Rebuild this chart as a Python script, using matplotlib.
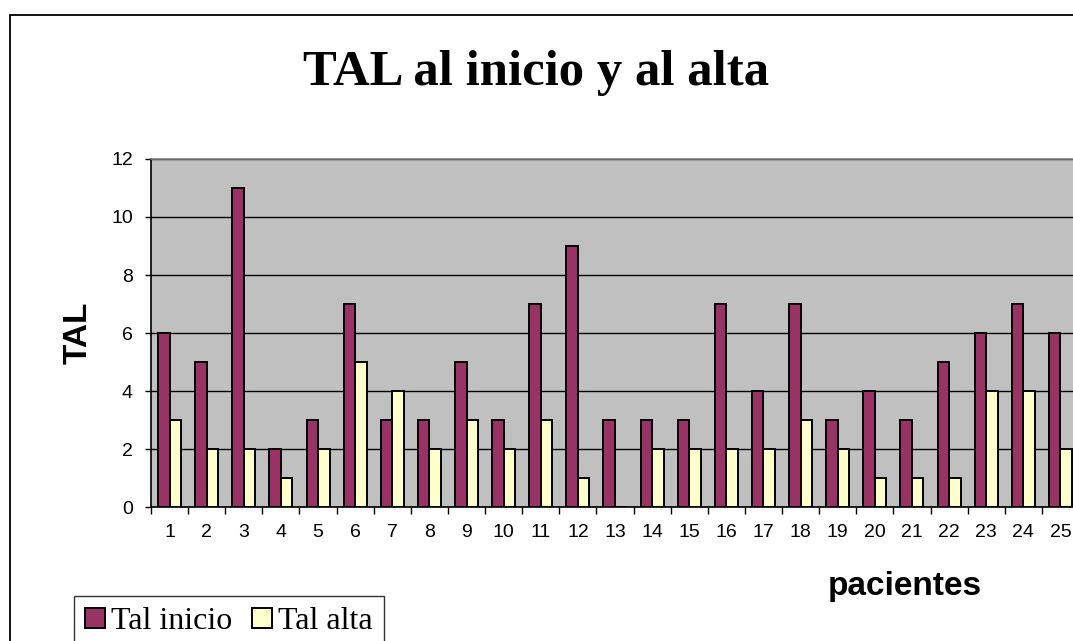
import numpy as np
import matplotlib.pyplot as plt
from matplotlib.patches import Rectangle

# datos
pacientes = [str(i) for i in range(1, 26)]
tal_inicio = [6, 5, 11, 2, 3, 7, 3, 3, 5, 3, 7, 9, 3, 3, 3, 7, 4, 7, 3, 4, 3, 5, 6, 7, 6]
tal_alta = [3, 2, 2, 1, 2, 5, 4, 2, 3, 2, 3, 1, 0, 2, 2, 2, 2, 3, 2, 1, 1, 1, 4, 4, 2]
y_ticks = [0, 2, 4, 6, 8, 10, 12]

plt.rcParams['font.family'] = 'Liberation Sans'
plt.rcParams['xtick.labelsize'] = 14
plt.rcParams['ytick.labelsize'] = 14

W, H = 1073, 641
fig = plt.figure(figsize=(W / 100, H / 100), dpi=100)
fig.patch.set_facecolor('white')

# marco del grafico (cortado a la derecha y abajo)
fig.patches.append(Rectangle((10 / W, -0.1), 1.2, 1 - 15 / H + 0.1,
                             transform=fig.transFigure, fill=False,
                             edgecolor='black', linewidth=1.3))

ax = fig.add_axes([151 / W, (H - 507) / H, (1079 - 151) / W, (507 - 159) / H])
ax.set_facecolor('#C0C0C0')

x = np.arange(len(pacientes))
w = 0.31
ax.bar(x - w / 2, tal_inicio, w, color='#993366', edgecolor='black',
       linewidth=1.4, label='Tal inicio', zorder=3)
ax.bar(x + w / 2, tal_alta, w, color='#FFFFCC', edgecolor='black',
       linewidth=1.4, label='Tal alta', zorder=3)

ax.set_xlim(-0.5, len(pacientes) - 0.5)
ax.set_ylim(0, 12)
ax.set_yticks(y_ticks)
ax.yaxis.grid(True, color='black', linewidth=1, zorder=1)
ax.set_axisbelow(True)

# etiquetas en el centro, marcas en los limites de categoria
ax.set_xticks(x)
ax.set_xticklabels(pacientes)
ax.set_xticks(np.arange(len(pacientes) + 1) - 0.5, minor=True)
ax.tick_params(axis='x', which='major', length=0, pad=12)
ax.tick_params(axis='x', which='minor', length=5, width=1, direction='out')
ax.tick_params(axis='y', length=4, width=1, direction='out', pad=9)

ax.spines['left'].set_color('black')
ax.spines['bottom'].set_color('black')
ax.spines['top'].set_color('#808080')
ax.spines['right'].set_color('#808080')
for s in ax.spines.values():
    s.set_linewidth(1.2)

fig.text(536 / W, 1 - 73 / H, 'TAL al inicio y al alta', ha='center',
         va='center', fontfamily='Liberation Serif', fontweight='bold',
         fontsize=36.5)
fig.text(78 / W, 1 - 333 / H, 'TAL', rotation=90, ha='center', va='center',
         fontweight='bold', fontsize=24)
fig.text(905 / W, 1 - 586 / H, 'pacientes', ha='center', va='center',
         fontweight='bold', fontsize=24)

leg = fig.legend(loc='upper left', bbox_to_anchor=(74 / W, 1 - 596 / H),
                 ncol=2, frameon=True, fancybox=False, shadow=False,
                 prop={'family': 'Liberation Serif', 'size': 23},
                 handlelength=0.62, handleheight=0.62, handletextpad=0.2,
                 columnspacing=0.6, borderpad=0.35, borderaxespad=0)
leg.get_frame().set_edgecolor('black')
leg.get_frame().set_linewidth(1.0)

fig.savefig('out.png', dpi=100)
